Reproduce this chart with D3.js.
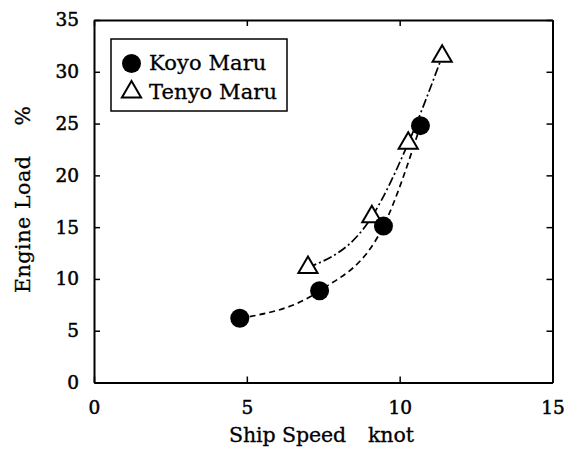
<!DOCTYPE html>
<html>
<head>
<meta charset="utf-8">
<script src="https://cdn.jsdelivr.net/npm/d3@7"></script>
<style>
  html, body { margin: 0; padding: 0; background: #fff; }
  svg { display: block; }
  text { font-family: "DejaVu Serif", "Liberation Serif", serif; fill: #000; }
</style>
</head>
<body>
<svg id="chart" width="569" height="453"></svg>
<script>
// ---- data ----
const koyoSpeed = [4.77, 7.38, 9.47, 10.68];
const koyoLoad  = [6.2, 8.85, 15.1, 24.8];
const tenyoSpeed = [7.0, 9.09, 10.28, 11.39];
const tenyoLoad  = [11.1, 16.0, 23.1, 31.5];
const xTicks = [0, 5, 10, 15];
const yTicks = [0, 5, 10, 15, 20, 25, 30, 35];
const seriesNames = ["Koyo Maru", "Tenyo Maru"];
const xTitle = ["Ship Speed", "knot"];
const yTitle = ["Engine Load", "%"];

const svg = d3.select("#chart");
const x = d3.scaleLinear().domain([0, 15]).range([94, 552.5]);
const y = d3.scaleLinear().domain([0, 35]).range([382.5, 20]);

const fs = 18.5;
function styleAxis(g) {
  g.select(".domain").attr("stroke", "#000").attr("stroke-width", 2);
  g.selectAll(".tick line").attr("stroke", "#000").attr("stroke-width", 1.5);
  g.selectAll(".tick text").attr("font-size", fs).attr("font-family", "DejaVu Serif")
    .attr("stroke", "#000").attr("stroke-width", 0.5);
}
svg.append("g").attr("transform", `translate(0,${y(0)})`)
  .call(d3.axisBottom(x).tickValues(xTicks).tickSizeInner(-6).tickSizeOuter(0).tickPadding(18).tickFormat(d3.format("d")))
  .call(styleAxis);
svg.append("g").attr("transform", `translate(0,${y(35)})`)
  .call(d3.axisTop(x).tickValues(xTicks).tickSizeInner(-6).tickSizeOuter(0).tickFormat(""))
  .call(styleAxis);
svg.append("g").attr("transform", `translate(${x(0)},0)`)
  .call(d3.axisLeft(y).tickValues(yTicks).tickSizeInner(-6).tickSizeOuter(0).tickPadding(15).tickFormat(d3.format("d")))
  .call(styleAxis);
svg.append("g").attr("transform", `translate(${x(15)},0)`)
  .call(d3.axisRight(y).tickValues(yTicks).tickSizeInner(-6).tickSizeOuter(0).tickFormat(""))
  .call(styleAxis);

// titles
const tfs = 20.5;
const xt = svg.append("text").attr("x", 229).attr("y", 442).attr("font-size", tfs)
  .attr("stroke", "#000").attr("stroke-width", 0.3).attr("letter-spacing", -0.1);
xt.append("tspan").text(xTitle[0]);
xt.append("tspan").attr("dx", 22).text(xTitle[1]);
const yt = svg.append("text").attr("transform", `translate(30,293) rotate(-90)`).attr("font-size", tfs)
  .attr("stroke", "#000").attr("stroke-width", 0.3).attr("letter-spacing", 0.6);
yt.append("tspan").text(yTitle[0]);
yt.append("tspan").attr("dx", 30).text(yTitle[1]);

// lines
const koyo = koyoSpeed.map((s, i) => [s, koyoLoad[i]]);
const tenyo = tenyoSpeed.map((s, i) => [s, tenyoLoad[i]]);
const line = d3.line().x(d => x(d[0])).y(d => y(d[1])).curve(d3.curveMonotoneX);
svg.append("path").attr("d", line(koyo)).attr("fill", "none").attr("stroke", "#000")
  .attr("stroke-width", 1.7).attr("stroke-dasharray", "6,4");
svg.append("path").attr("d", line(tenyo)).attr("fill", "none").attr("stroke", "#000")
  .attr("stroke-width", 1.7).attr("stroke-dasharray", "9,3,2,3");

// markers
const tri = d3.symbol().type(d3.symbolTriangle).size(160);
svg.selectAll(".tri").data(tenyo).join("path")
  .attr("transform", d => `translate(${x(d[0])},${y(d[1])})`)
  .attr("d", tri).attr("fill", "#fff").attr("stroke", "#000").attr("stroke-width", 2);
svg.selectAll(".dot").data(koyo).join("circle")
  .attr("cx", d => x(d[0])).attr("cy", d => y(d[1])).attr("r", 9.5).attr("fill", "#000");

// legend
const lg = svg.append("g");
lg.append("rect").attr("x", 111).attr("y", 39).attr("width", 176).attr("height", 72)
  .attr("fill", "#fff").attr("stroke", "#000").attr("stroke-width", 1.5);
lg.append("circle").attr("cx", 131.5).attr("cy", 63.5).attr("r", 9.5).attr("fill", "#000");
lg.append("path").attr("transform", "translate(131.5,92)").attr("d", tri)
  .attr("fill", "#fff").attr("stroke", "#000").attr("stroke-width", 2);
lg.append("text").attr("x", 149).attr("y", 70).attr("font-size", 21).attr("letter-spacing", 0.1)
  .attr("stroke", "#000").attr("stroke-width", 0.3).text(seriesNames[0]);
lg.append("text").attr("x", 149).attr("y", 99).attr("font-size", 21).attr("letter-spacing", 0.1)
  .attr("stroke", "#000").attr("stroke-width", 0.3).text(seriesNames[1]);
</script>
</body>
</html>
